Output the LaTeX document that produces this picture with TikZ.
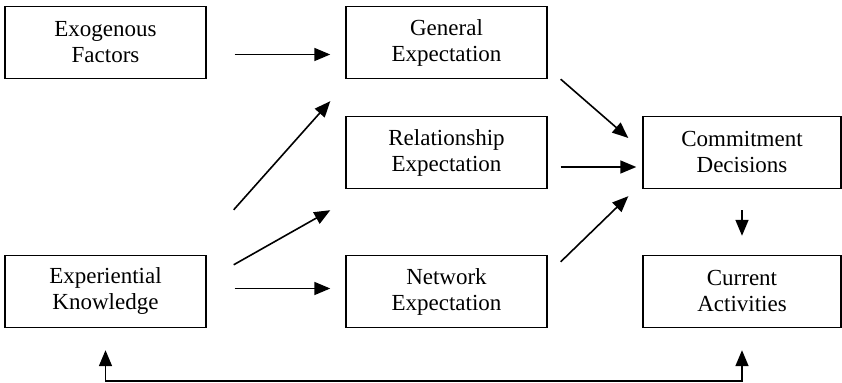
\documentclass[tikz,border=0pt]{standalone}
\usepackage{fontspec}
\setmainfont{Liberation Serif}
\usetikzlibrary{positioning,calc,arrows.meta}

\begin{document}
\begin{tikzpicture}[x=0.5pt,y=-0.5pt,>={Triangle[length=8pt,width=6.5pt]},
                    stage/.style={draw,line width=0.7pt,minimum width=100.5pt,minimum height=36pt,
                                  inner sep=0pt,align=center,font=\fontsize{11.5}{13}\selectfont},
                    link/.style={line width=0.8pt}]
                    \useasboundingbox (0,0) rectangle (842,383);
                    \node[stage] (exo) at (105.5,42.5) {Exogenous\\Factors};
                    \node[stage] (gen) at (446.5,42.5) {General\\Expectation};
                    \node[stage] (rel) at (446.5,152.5) {Relationship\\Expectation};
                    \node[stage] (exp) at (105.5,291.5) {Experiential\\Knowledge};
                    \node[stage] (net) at (446.5,291.5) {Network\\Expectation};
                    \node[stage,minimum width=99pt] (com) at (742,152.5) {Commitment\\Decisions};
                    \node[stage,minimum width=99pt] (cur) at (742,291.5) {Current\\Activities};
                    \coordinate (fb) at (0,381);
                    \draw[link,->] ($(exo.east)+(28,12)$) -- ($(gen.west)+(-15,12)$);
                    \draw[link,->] ($(exp.north east)+(27,-45)$) -- ($(gen.south west)+(-15,22)$);
                    \draw[link,->] ($(exp.north east)+(27,10)$) -- ($(rel.south west)+(-15,21)$);
                    \draw[link,->] ($(exp.east)+(28,-3)$) -- ($(net.west)+(-15,-3)$);
                    \draw[link,->] ($(gen.south east)+(13,0)$) -- ($(com.west)+(-14,-14.5)$);
                    \draw[link,->] ($(rel.east)+(13,14.5)$) -- ($(com.west)+(-6,14.5)$);
                    \draw[link,->] ($(net.north east)+(13,7)$) -- ($(com.south west)+(-14,7)$);
                    \draw[link,->] ($(com.south)+(0,21)$) -- ($(cur.north)+(0,-19)$);
                    \draw[link,<->] ($(exp.south)+(0,22)$) -- (exp.south |- fb) -- (cur.south |- fb) -- ($(cur.south)+(0,22)$);
                \end{tikzpicture}
\end{document}
